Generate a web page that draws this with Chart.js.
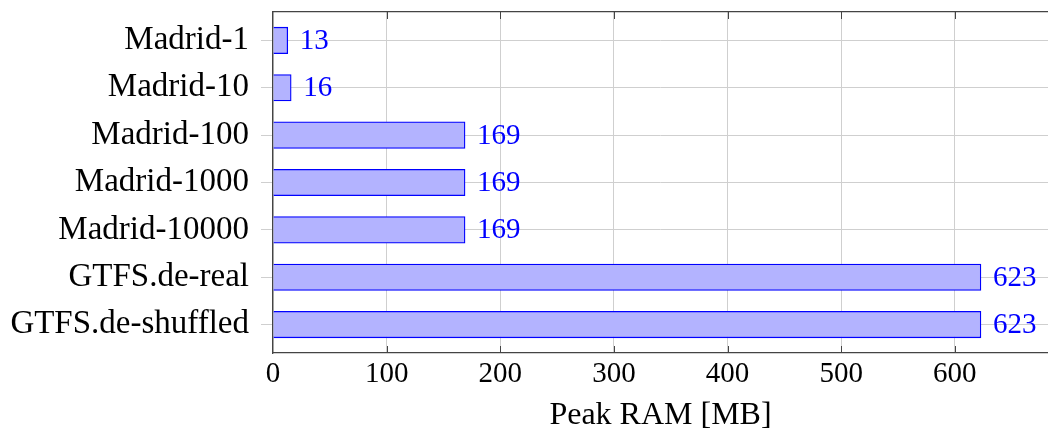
<!DOCTYPE html>
<html lang="en">
<head>
  <meta charset="UTF-8">
  <title>Peak RAM</title>
  <script src="https://cdn.jsdelivr.net/npm/chart.js"></script>
  <style>
    html, body { margin: 0; padding: 0; background: #fff; overflow: hidden; }
    #wrap { width: 1048px; height: 436px; }
  </style>
</head>
<body>
  <div id="wrap"><canvas id="ramChart" width="1048" height="436"></canvas></div>
  <script>
    // data
    const datasets_names = ['Madrid-1', 'Madrid-10', 'Madrid-100', 'Madrid-1000', 'Madrid-10000', 'GTFS.de-real', 'GTFS.de-shuffled'];
    const peakRam = [13, 16, 169, 169, 169, 623, 623];
    const xTicks = [0, 100, 200, 300, 400, 500, 600];

    const serif = 'Liberation Serif';
    const axisColor = '#444';
    const gridColor = '#cfcfcf';

    // small ticks pointing into the plot (pgfplots style)
    const innerTicks = {
      id: 'innerTicks',
      afterDraw(chart) {
        const { ctx, chartArea } = chart;
        const xs = chart.scales.x;
        ctx.save();
        ctx.strokeStyle = axisColor;
        ctx.lineWidth = 1;
        xTicks.forEach(v => {
          const px = Math.round(xs.getPixelForValue(v)) + 0.5;
          if (v === 0) return;
          ctx.beginPath();
          ctx.moveTo(px, chartArea.bottom);
          ctx.lineTo(px, chartArea.bottom - 7);
          ctx.moveTo(px, chartArea.top);
          ctx.lineTo(px, chartArea.top + 7);
          ctx.stroke();
        });
        ctx.restore();
      }
    };

    // value next to each bar
    const barValues = {
      id: 'barValues',
      afterDatasetsDraw(chart) {
        const { ctx } = chart;
        const meta = chart.getDatasetMeta(0);
        ctx.save();
        ctx.fillStyle = '#0000ff';
        ctx.font = '29px "' + serif + '"';
        ctx.textAlign = 'left';
        ctx.textBaseline = 'middle';
        meta.data.forEach((bar, i) => {
          ctx.fillText(String(peakRam[i]), bar.x + 12, bar.y + 1);
        });
        ctx.restore();
      }
    };

    const ctx = document.getElementById('ramChart').getContext('2d');
    new Chart(ctx, {
      type: 'bar',
      data: {
        datasets: [{
          data: peakRam.map((v, i) => ({ x: v, y: i })),
          backgroundColor: 'rgb(179,179,255)',
          borderColor: '#0000ff',
          borderWidth: 1.3,
          barThickness: 26.5
        }]
      },
      options: {
        indexAxis: 'y',
        responsive: false,
        animation: false,
        layout: { padding: { top: 0, right: 0, left: 0, bottom: 0 } },
        plugins: { legend: { display: false }, tooltip: { enabled: false } },
        scales: {
          x: {
            type: 'linear',
            position: 'bottom',
            min: 0,
            max: 682,
            afterBuildTicks: s => { s.ticks = xTicks.map(v => ({ value: v })); },
            afterFit: s => { s.height = 83; s.paddingLeft = 0; s.paddingRight = 0; },
            ticks: { font: { family: serif, size: 29 }, color: '#000', padding: 4, maxRotation: 0 },
            grid: { color: gridColor, drawTicks: false },
            border: { color: axisColor, width: 1.3 },
            title: {
              display: true,
              text: 'Peak RAM [MB]',
              font: { family: serif, size: 32 },
              color: '#000',
              padding: { top: 0, bottom: 1 }
            }
          },
          x2: {
            type: 'linear',
            position: 'top',
            min: 0,
            max: 682,
            afterFit: s => { s.height = 12; s.paddingLeft = 0; s.paddingRight = 0; },
            ticks: { display: false },
            grid: { display: false },
            border: { display: true, color: axisColor, width: 1.3 }
          },
          y: {
            type: 'linear',
            reverse: true,
            offset: false,
            min: -0.6,
            max: 6.6,
            afterBuildTicks: s => { s.ticks = datasets_names.map((_, i) => ({ value: i })); },
            afterFit: s => { s.width = 273; s.paddingTop = 0; s.paddingBottom = 0; },
            ticks: {
              font: { family: serif, size: 33 },
              color: '#000',
              padding: 12,
              callback: v => datasets_names[v]
            },
            grid: { color: gridColor, tickLength: 12, offset: false },
            border: { color: axisColor, width: 1.3 }
          }
        }
      },
      plugins: [innerTicks, barValues]
    });
  </script>
</body>
</html>
